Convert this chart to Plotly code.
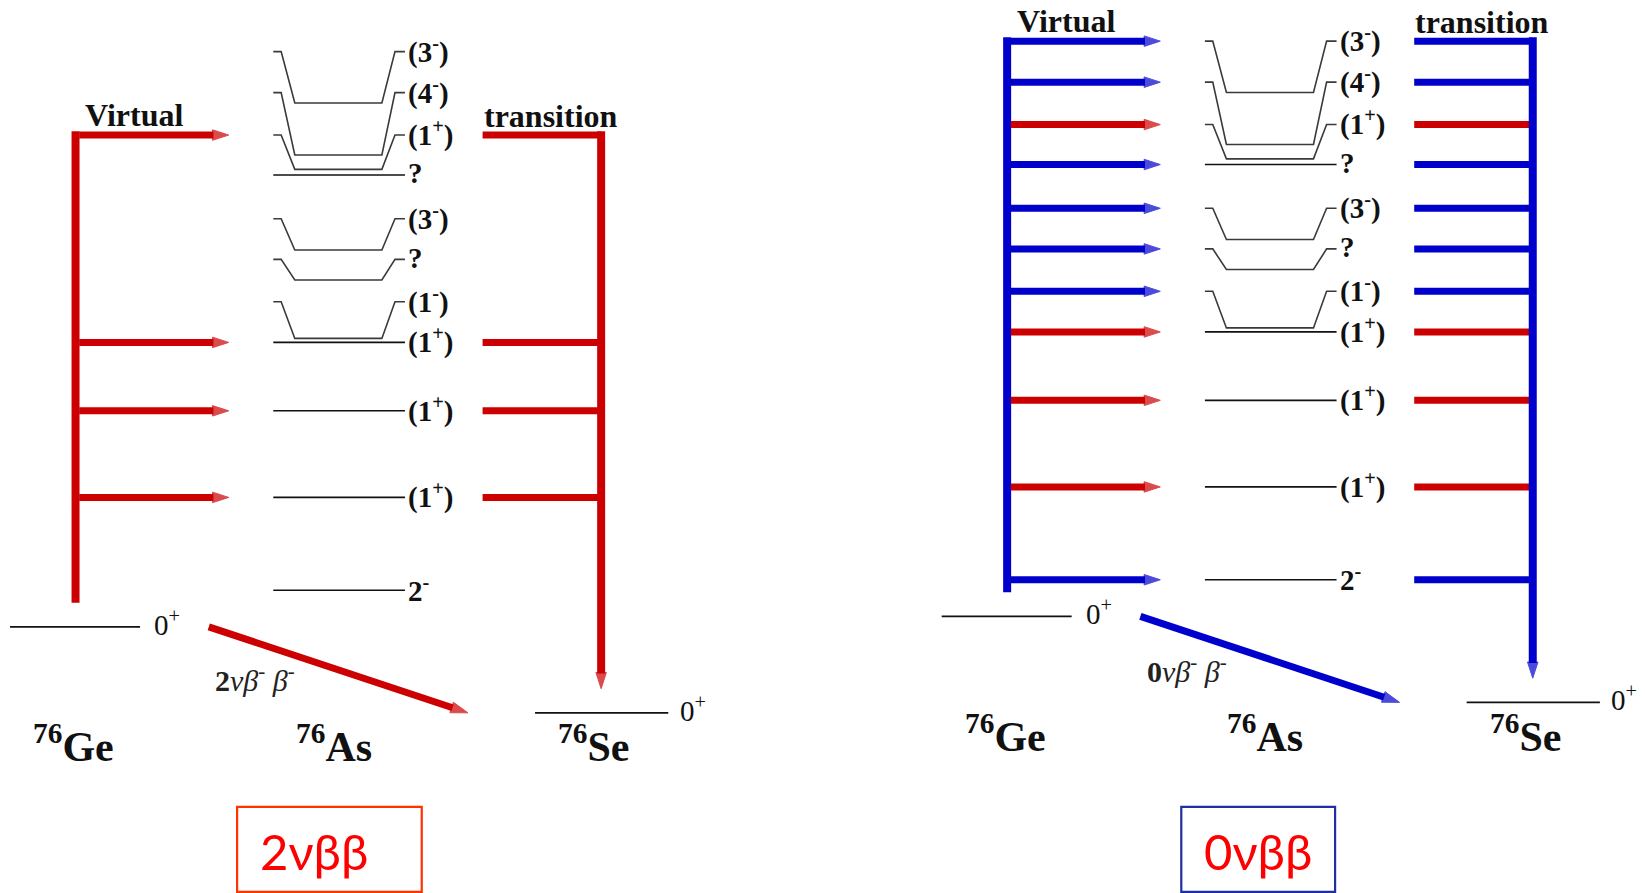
import plotly.graph_objects as go

# ---------------- data ----------------
# 76As intermediate-nucleus levels, listed top to bottom (diagram y units, downward)
as_labels = ["(3-)", "(4-)", "(1+)", "?", "(3-)", "?", "(1-)", "(1+)", "(1+)", "(1+)", "2-"]
as_level_y = [49.2, 88.3, 128.7, 166.8, 208.5, 247.2, 287.6, 326.3, 391.5, 474.0, 562.5]
# lower member of the bracketed (doublet) levels, None = single level
as_doublet_y = [98.2, 147.7, 161.4, None, 238.3, 266.8, 322.5, None, None, None, None]
ge_ground_y = 597.4
se_ground_y = 679.3
ground_label = "0+"
mass_number = "76"
nuclides = ["Ge", "As", "Se"]
decay_modes = ["2ν", "0ν"]
box_labels = ["2νββ", "0νββ"]

RED = "#cc0000"
BLUE = "#0000cc"
SERIF = "Liberation Serif"

fig = go.Figure()


def fmt(lbl):
    out = ""
    for ch in lbl:
        out += "<sup>%s</sup>" % ch if ch in "+-" else ch
    return out


def line(xs, ys, color, width):
    fig.add_trace(go.Scatter(x=xs, y=ys, mode="lines", line=dict(color=color, width=width),
                             hoverinfo="skip"))


def arrow(x0, y0, x1, y1, color, width, head=18):
    fig.add_trace(go.Scatter(x=[x0, x1], y=[y0, y1], mode="lines+markers",
                             line=dict(color=color, width=width),
                             marker=dict(symbol="arrow", size=[0, head], angleref="previous",
                                         color=color, line=dict(width=1, color=color)),
                             hoverinfo="skip"))


def text(x, y, s, size, color="#111111", xanchor="center", yanchor="middle", family=SERIF):
    fig.add_annotation(x=x, y=y, text=s, showarrow=False, xanchor=xanchor, yanchor=yanchor,
                       font=dict(family=family, size=size, color=color))


# geometry (diagram units)
VIRT_X, TIP_X = 72, 218
LX0, LTICK, SL, SR, TR, LX1, LABX = 260.5, 268, 281, 364, 376.5, 386, 387
TR_X0, TR_X = 460, 573
GE_X = (9.6, 133.5)
SE_X = (510, 637)
DIAG_X = (199, 446)
GAP = 23

panels = [
    dict(dx=0, dy=0, color=RED, only_1plus=True, box=(226, 402), box_col="#ff3300",
         box_text_x=246, box_anchor="left"),
    dict(dx=888, dy=-10, color=BLUE, only_1plus=False, box=(1126, 1272.6), box_col="#1f2f9f",
         box_text_x=1199, box_anchor="center"),
]

for p, mode, blabel in zip(panels, decay_modes, box_labels):
    dx, dy, col = p["dx"], p["dy"], p["color"]
    # 76As levels
    for lbl, ly, by in zip(as_labels, as_level_y, as_doublet_y):
        y = ly + dy
        if by is None:
            line([LX0 + dx, LX1 + dx], [y, y], "#111111", 1.6)
        else:
            b = by + dy
            line([LX0 + dx, LTICK + dx, SL + dx, SR + dx, TR + dx, LX1 + dx],
                 [y, y, b, b, y, y], "#3a3a3a", 1.6)
        text(LABX + dx, y - 1.5, "<b>%s</b>" % fmt(lbl), 29, xanchor="left")
    # virtual transitions
    idx = [i for i, l in enumerate(as_labels) if (l == "(1+)" or not p["only_1plus"])]
    ys = [as_level_y[i] + dy for i in idx]
    top = min(ys)
    ge_y = ge_ground_y + dy
    se_y = se_ground_y + dy
    line([VIRT_X + dx, VIRT_X + dx], [top - 3.6, ge_y - GAP], col, 8)
    for i in idx:
        c = RED if as_labels[i] == "(1+)" else BLUE
        y = as_level_y[i] + dy
        arrow(VIRT_X + dx + 3.5, y, TIP_X + dx, y, c, 7, 17)
        line([TR_X0 + dx, TR_X + dx], [y, y], c, 7)
    arrow(TR_X + dx, top - 3.6, TR_X + dx, se_y - GAP, col, 8, 17)
    text(128 + dx, top - 19, "<b>Virtual</b>", 32)
    text(525 + dx, top - 18.5, "<b>transition</b>", 32)
    # ground states
    line([GE_X[0] + dx, GE_X[1] + dx], [ge_y, ge_y], "#111111", 1.6)
    line([SE_X[0] + dx, SE_X[1] + dx], [se_y, se_y], "#111111", 1.6)
    text(145 + dx, ge_y - 4, fmt(ground_label), 29, xanchor="left")
    text(646 + dx, se_y - 4, fmt(ground_label), 29, xanchor="left")
    # double-beta decay arrow
    arrow(DIAG_X[0] + dx, ge_y, DIAG_X[1] + dx, se_y, col, 7, 18)
    text(203 + dx, 646 + dy + (2 if dx else 0),
         "<b>%s</b><i>%s</i>" % (mode[0], mode[1:] + "β<sup>-</sup> β<sup>-</sup>"),
         30, xanchor="left", color="#222222")
    # nuclide names
    for nx, nm in zip([70, 318, 566], nuclides):
        text(nx + dx, 709 + dy, "<b><sup>%s</sup>%s</b>" % (mass_number, nm), 42)
    # boxed label
    x0, x1 = p["box"]
    fig.add_shape(type="rect", x0=x0, x1=x1, y0=769, y1=850, xref="x", yref="y",
                  line=dict(color=p["box_col"], width=2.2), fillcolor="rgba(0,0,0,0)")
    text(p["box_text_x"], 811, blabel, 49, color="#ff0000", xanchor=p["box_anchor"], family="Lato")

fig.update_layout(
    width=1645, height=893, margin=dict(l=0, r=0, t=0, b=0),
    paper_bgcolor="white", plot_bgcolor="white", showlegend=False,
    xaxis=dict(range=[0, 1568], visible=False, fixedrange=True),
    yaxis=dict(range=[851, 0], visible=False, fixedrange=True),
)
fig.write_html("out.html", config={"displayModeBar": False})
